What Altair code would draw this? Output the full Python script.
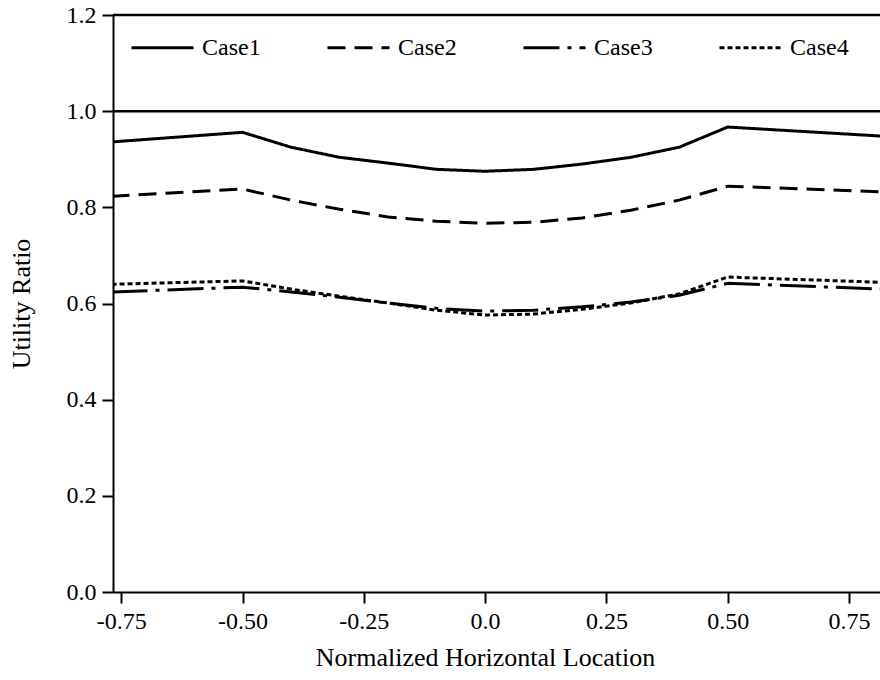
import altair as alt
import pandas as pd

# Normalized horizontal positions where the utility ratio was sampled
locations = [-0.77, -0.5, -0.4, -0.3, -0.2, -0.1, 0.0, 0.1, 0.2, 0.3, 0.4, 0.5, 0.82]

case1 = [0.936, 0.956, 0.925, 0.904, 0.892, 0.879, 0.875, 0.879, 0.890, 0.904, 0.925, 0.967, 0.948]
case2 = [0.823, 0.838, 0.815, 0.796, 0.780, 0.771, 0.767, 0.769, 0.778, 0.794, 0.815, 0.844, 0.832]
case3 = [0.624, 0.634, 0.624, 0.613, 0.601, 0.590, 0.584, 0.586, 0.593, 0.603, 0.617, 0.642, 0.630]
case4 = [0.640, 0.647, 0.630, 0.615, 0.601, 0.586, 0.576, 0.578, 0.588, 0.601, 0.620, 0.655, 0.644]

cases = ["Case1", "Case2", "Case3", "Case4"]
dash_patterns = [[1, 0], [18, 9], [36, 8, 4, 8], [5, 3]]

x_ticks = [-0.75, -0.5, -0.25, 0.0, 0.25, 0.5, 0.75]
y_ticks = [0.0, 0.2, 0.4, 0.6, 0.8, 1.0, 1.2]
reference_levels = [1.0, 1.2]

rows = []
for name, series in zip(cases, [case1, case2, case3, case4]):
    for loc, val in zip(locations, series):
        rows.append({"location": loc, "ratio": val, "case": name})
df = pd.DataFrame(rows)
ref_df = pd.DataFrame({"level": reference_levels})

FONT = "Liberation Serif"

x_scale = alt.Scale(domain=[-0.767, 0.814], nice=False, zero=False)
y_scale = alt.Scale(domain=[0, 1.2], nice=False)

lines = alt.Chart(df).mark_line(strokeWidth=3, color="black", clip=True).encode(
    x=alt.X(
        "location:Q",
        scale=x_scale,
        axis=alt.Axis(
            title="Normalized Horizontal Location",
            values=x_ticks,
            labelExpr=(
                "datum.value == 0 ? '0.0' : "
                "(datum.value < 0 ? '-' : '') + format(abs(datum.value), '.2f')"
            ),
            titleX=372,
            titleY=73,
            titleAlign="center",
            titleBaseline="alphabetic",
        ),
    ),
    y=alt.Y(
        "ratio:Q",
        scale=y_scale,
        axis=alt.Axis(
            title="Utility Ratio",
            values=y_ticks,
            format=".1f",
            titleX=-84,
            titleY=288.5,
            titleAlign="center",
            titleBaseline="alphabetic",
            titleAngle=270,
        ),
    ),
    strokeDash=alt.StrokeDash(
        "case:N",
        scale=alt.Scale(domain=cases, range=dash_patterns),
        legend=alt.Legend(
            title=None,
            orient="none",
            legendX=17,
            legendY=0,
            direction="horizontal",
            columns=4,
            columnPadding=60,
            symbolType="stroke",
            symbolSize=3844,
            symbolStrokeWidth=3,
            symbolStrokeColor="black",
            labelFont=FONT,
            labelFontSize=24,
            labelColor="black",
            labelOffset=7,
            padding=0,
        ),
    ),
    detail="case:N",
)

rules = alt.Chart(ref_df).mark_rule(strokeWidth=2.5, color="black").encode(
    y=alt.Y("level:Q", scale=y_scale)
)

chart = (
    alt.layer(rules, lines)
    .properties(
        width=767,
        height=577,
        padding={"left": 113, "top": 15, "right": 0, "bottom": 88},
        autosize=alt.AutoSizeParams(type="none"),
        background="white",
    )
    .configure_view(stroke=None)
    .configure_axis(
        grid=False,
        domainColor="black",
        domainWidth=2,
        tickColor="black",
        tickWidth=2,
        tickSize=11,
        labelFont=FONT,
        labelFontSize=24,
        labelColor="black",
        labelPadding=6,
        titleFont=FONT,
        titleFontSize=26,
        titleFontWeight="normal",
        titleColor="black",
    )
)

chart.save("out.html", embed_options={"renderer": "svg", "actions": False})
